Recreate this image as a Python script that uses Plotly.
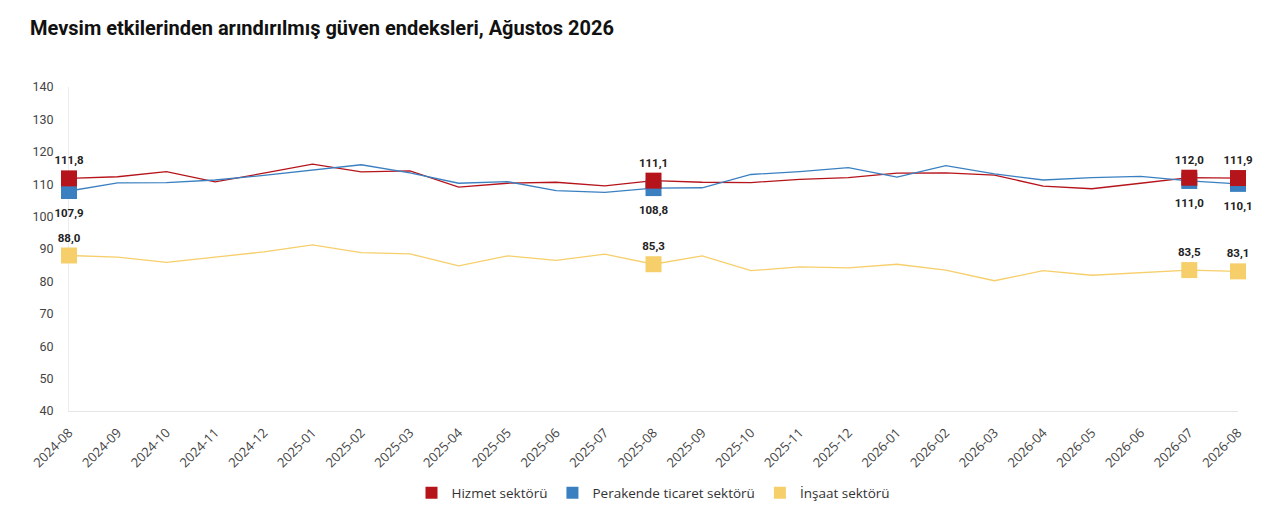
import plotly.graph_objects as go

aylar = ["2024-08", "2024-09", "2024-10", "2024-11", "2024-12", "2025-01", "2025-02",
         "2025-03", "2025-04", "2025-05", "2025-06", "2025-07", "2025-08", "2025-09",
         "2025-10", "2025-11", "2025-12", "2026-01", "2026-02", "2026-03", "2026-04",
         "2026-05", "2026-06", "2026-07", "2026-08"]

hizmet = [111.8, 112.3, 113.9, 110.7, 113.4, 116.2, 113.8, 114.1, 109.1, 110.3, 110.6, 109.5,
          111.1, 110.6, 110.5, 111.5, 112.0, 113.4, 113.5, 112.8, 109.4, 108.6, 110.3, 112.0, 111.9]
perakende = [107.9, 110.4, 110.5, 111.3, 112.7, 114.4, 116.0, 113.5, 110.3, 110.8, 108.0, 107.5,
             108.8, 108.9, 113.0, 113.9, 115.1, 112.2, 115.7, 113.2, 111.3, 112.0, 112.4, 111.0, 110.1]
insaat = [88.0, 87.5, 85.9, 87.5, 89.1, 91.3, 88.9, 88.5, 84.8, 87.9, 86.5, 88.4,
          85.3, 87.9, 83.3, 84.5, 84.2, 85.3, 83.5, 80.2, 83.3, 81.9, 82.7, 83.5, 83.1]

# etiketli noktalar
vurgu = [0, 12, 23, 24]

seriler = [
    ("Hizmet sektörü", hizmet, "#b5141b", "top center"),
    ("Perakende ticaret sektörü", perakende, "#3a80c1", "bottom center"),
    ("İnşaat sektörü", insaat, "#f6cf6b", "top center"),
]
sira = {"Hizmet sektörü": 1, "Perakende ticaret sektörü": 2, "İnşaat sektörü": 3}
etiket_font = dict(family="Roboto", size=11.5, color="#222222", weight="bold")

fig = go.Figure()

for ad, deger, renk, konum in seriler:
    fig.add_trace(go.Scatter(x=aylar, y=deger, mode="lines", name=ad, showlegend=False,
                             line=dict(color=renk, width=1.3), hoverinfo="skip"))

# markerlar: once perakende, sonra hizmet ustte
for ad, deger, renk, konum in [seriler[1], seriler[0], seriler[2]]:
    xs = [aylar[i] for i in vurgu]
    ys = [deger[i] for i in vurgu]
    yazi = [f"{v:.1f}".replace(".", ",") for v in ys]
    fig.add_trace(go.Scatter(
        x=xs, y=ys, mode="markers", name=ad, legendrank=sira[ad],
        marker=dict(symbol="square", size=16, color=renk), cliponaxis=False))
    # etiketler icin gorunmez buyuk marker (alt etiket biraz daha asagida)
    fig.add_trace(go.Scatter(
        x=xs, y=ys, mode="markers+text", showlegend=False, hoverinfo="skip",
        marker=dict(size=26 if konum.startswith("bottom") else 16, opacity=0),
        text=yazi, textposition=konum, textfont=etiket_font, cliponaxis=False))

# sayfa 8px kenar boslugu ile aciliyor
fig.update_layout(
    width=1272, height=501,
    paper_bgcolor="white", plot_bgcolor="white",
    margin=dict(l=61, r=42, t=79, b=98, autoexpand=False),
    title=dict(text="<b>Mevsim etkilerinden arındırılmış güven endeksleri, Ağustos 2026</b>",
               x=22 / 1272, xanchor="left", y=1 - 20 / 501, yanchor="middle",
               font=dict(family="Roboto", size=20, color="#111111")),
    xaxis=dict(type="category", range=[0, 24], tickangle=-45, showgrid=False, automargin=False,
               showline=True, linecolor="#e6e6e6", ticks="", ticklen=0, layer="below traces",
               ticklabelstandoff=8,
               tickfont=dict(family="Open Sans", size=13, color="#444444")),
    yaxis=dict(range=[40, 140], dtick=10, showgrid=False, zeroline=False, automargin=False,
               showline=True, linecolor="#ececec", ticklabelstandoff=12, layer="below traces",
               tickfont=dict(family="Roboto", size=12.5, color="#444444")),
    legend=dict(orientation="h", x=0.5, xanchor="center", y=-0.205, yanchor="top",
                font=dict(family="Open Sans", size=13.5, color="#333333"),
                traceorder="normal", itemsizing="constant"),
    showlegend=True,
)

fig.write_html("out.html")
